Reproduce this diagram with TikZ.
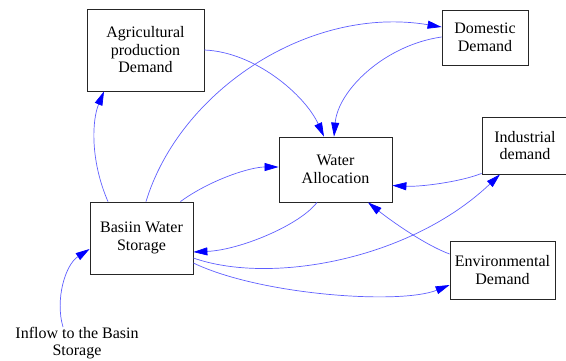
\documentclass[tikz,border=0pt]{standalone}
\usepackage{fontspec}
\setmainfont{Liberation Serif}
\usetikzlibrary{arrows.meta}
\definecolor{lineblue}{RGB}{95,95,255}
\begin{document}
\begin{tikzpicture}[x=1pt,y=-1pt,
  box/.style={draw=black!85,line width=0.8pt,fill=white,inner sep=0pt,align=center,
    font=\rmfamily\fontsize{16}{17.5}\selectfont},
  link/.style={draw=lineblue,line width=0.7pt,-{Triangle[length=14pt,width=8pt,color=blue]}}]
\useasboundingbox (0,0) rectangle (566,360);
\node[box,minimum width=117pt,minimum height=82pt] (agri) at (145.5,50) {Agricultural\\production\\Demand};
\node[box,minimum width=86pt,minimum height=55pt] (dom) at (485,37.5) {Domestic\\Demand};
\node[box,minimum width=113pt,minimum height=65pt] (wa) at (335.5,169.5) {Water\\Allocation};
\node[box,minimum width=86pt,minimum height=57pt] (ind) at (525,145.5) {Industrial\\demand};
\node[box,minimum width=105pt,minimum height=58pt] (env) at (502.5,270) {Environmental\\Demand};
\node[box,minimum width=103pt,minimum height=72pt] (basin) at (141.5,238) {Basiin Water\\Storage};
\node[align=center,inner sep=0pt,font=\rmfamily\fontsize{16}{17.5}\selectfont] (inflow) at (77,343) {Inflow to the Basin\\Storage};
\coordinate (inflowtop) at (63,327);
% connectors
\draw[link] ([xshift=-33.5pt]basin.north) .. controls (90,160) and (92,120) .. ([xshift=-41.5pt]agri.south);
\draw[link] ([xshift=4.5pt]basin.north) .. controls (180,90) and (310,5) .. ([yshift=10.5pt]dom.west);
\draw[link] ([xshift=-13pt]basin.north east) .. controls (210,180) and (250,167) .. ([yshift=2.5pt]wa.west);
\draw[link] (agri.east) .. controls (255,52) and (305,95) .. ([xshift=-11.5pt]wa.north);
\draw[link] ([yshift=0.5pt]dom.west) .. controls (385,45) and (338,90) .. ([xshift=-1.5pt]wa.north);
\draw[link] ([yshift=1pt]ind.south west) .. controls (460,182) and (420,187) .. ([yshift=-16pt]wa.east);
\draw[link] ([xshift=-18.5pt]wa.south) .. controls (300,225) and (240,250) .. ([yshift=-14pt]basin.east);
\draw[link] ([yshift=-20pt]basin.east) .. controls (270,285) and (410,260) .. ([xshift=-25pt]ind.south);
\draw[link] ([yshift=-25pt]basin.east) .. controls (260,295) and (400,305) .. ([yshift=-15pt]env.west);
\draw[link] ([yshift=16pt]env.west) .. controls (425,245) and (390,220) .. ([xshift=32.5pt]wa.south);
\draw[link] (inflowtop) .. controls (55,300) and (65,265) .. ([yshift=-11pt]basin.west);
\end{tikzpicture}
\end{document}
